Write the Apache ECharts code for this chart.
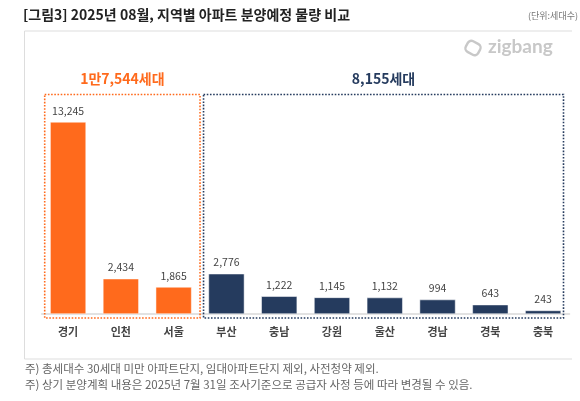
<!DOCTYPE html>
<html>
<head>
<meta charset="utf-8">
<script src="https://cdn.jsdelivr.net/npm/echarts@6/dist/echarts.min.js"></script>
<style>
html,body{margin:0;padding:0;background:#fff;}
#c{width:580px;height:401px;}
</style>
</head>
<body>
<div id="c"></div>
<script>
var categories = ['경기','인천','서울','부산','충남','강원','울산','경남','경북','충북'];
var values = [13245, 2434, 1865, 2776, 1222, 1145, 1132, 994, 643, 243];
var groupA = ['경기','인천','서울'];
var groupALabel = '1만7,544세대';
var groupBLabel = '8,155세대';
var titleText = '[그림3] 2025년 08월, 지역별 아파트 분양예정 물량 비교';
var unitText = '(단위:세대수)';
var notes = ['주) 총세대수 30세대 미만 아파트단지, 임대아파트단지 제외, 사전청약 제외.',
             '주) 상기 분양계획 내용은 2025년 7월 31일 조사기준으로 공급자 사정 등에 따라 변경될 수 있음.'];

var ORANGE = '#FF6A1C', NAVY = '#253B5E';
var FONT = '"Noto Sans CJK KR", "Noto Sans", sans-serif';

var chart = echarts.init(document.getElementById('c'), null, {renderer:'canvas'});

var baseGraphics = [
  {type:'text', left:23, top:8, style:{text:titleText, font:'bold 14px ' + FONT, fill:'#222'}},
  {type:'text', right:2, top:11, style:{text:unitText, font:'9px ' + FONT, fill:'#777'}},
  {type:'polyline', shape:{points:[[572,31],[24.5,31],[24.5,359],[572,359]]}, style:{stroke:'#dddddd', lineWidth:1, fill:null}},
  {type:'text', left:488, top:37, style:{text:'zigbang', font:'bold 19px Lato, "Open Sans", sans-serif', fill:'#c8c8c8'}},
  {type:'rect', shape:{x:466, y:42, width:14, height:12, r:4}, rotation:-0.5, originX:473, originY:48, style:{stroke:'#c8c8c8', lineWidth:2.4, fill:null}},
  {type:'text', left:25, top:363, style:{text:notes[0], font:'11.5px ' + FONT, fill:'#666'}},
  {type:'text', left:25, top:379, style:{text:notes[1], font:'11.5px ' + FONT, fill:'#666'}}
];

chart.setOption({
  animation:false,
  grid:{left:41.7, right:10.5, top:96.5, bottom:87},
  xAxis:{
    type:'category', data:categories,
    axisLine:{lineStyle:{color:'#d9d9d9', width:1.5}},
    axisTick:{show:false},
    axisLabel:{color:'#444', fontSize:11, fontWeight:'bold', fontFamily:FONT, margin:12}
  },
  yAxis:{type:'value', min:0, max:15000, show:false, splitLine:{show:false}},
  series:[{
    type:'bar', data:values.map(function(v,i){
      return {value:v, itemStyle:{color: groupA.indexOf(categories[i])>=0 ? ORANGE : NAVY}};
    }),
    barWidth:'68%',
    itemStyle:{borderColor:'#ffffff', borderWidth:0.5},
    label:{show:true, position:'top', distance:6, color:'#444', fontSize:10.5, fontFamily:FONT,
      formatter:function(p){return p.value.toLocaleString('en-US');}}
  }],
  graphic: baseGraphics
});

// group boxes positioned through the axis scales
var band = chart.convertToPixel({xAxisIndex:0}, categories[1]) - chart.convertToPixel({xAxisIndex:0}, categories[0]);
function cx(name){ return chart.convertToPixel({xAxisIndex:0}, name); }
var yTop = chart.convertToPixel({yAxisIndex:0}, 15000) - 2;
var yBase = chart.convertToPixel({yAxisIndex:0}, 0) + 4;
var aL = cx(categories[0]) - band/2 + 3, aR = cx(groupA[groupA.length-1]) + band/2;
var bL = aR + 3.5, bR = cx(categories[categories.length-1]) + band/2 - 6;

var extra = [
  {type:'rect', shape:{x:aL, y:yTop, width:aR-aL, height:yBase-yTop}, style:{stroke:ORANGE, lineWidth:1.6, lineDash:[1.6,1.6], fill:null}, z:10},
  {type:'rect', shape:{x:bL, y:yTop, width:bR-bL, height:yBase-yTop}, style:{stroke:NAVY, lineWidth:1.6, lineDash:[1.6,1.6], fill:null}, z:10},
  {type:'text', x:(aL+aR)/2, y:yTop-16, style:{text:groupALabel, font:'bold 14px ' + FONT, fill:ORANGE, align:'center', verticalAlign:'middle'}},
  {type:'text', x:(bL+bR)/2, y:yTop-16, style:{text:groupBLabel, font:'bold 14px ' + FONT, fill:NAVY, align:'center', verticalAlign:'middle'}}
];
chart.setOption({graphic: baseGraphics.concat(extra)});
</script>
</body>
</html>
